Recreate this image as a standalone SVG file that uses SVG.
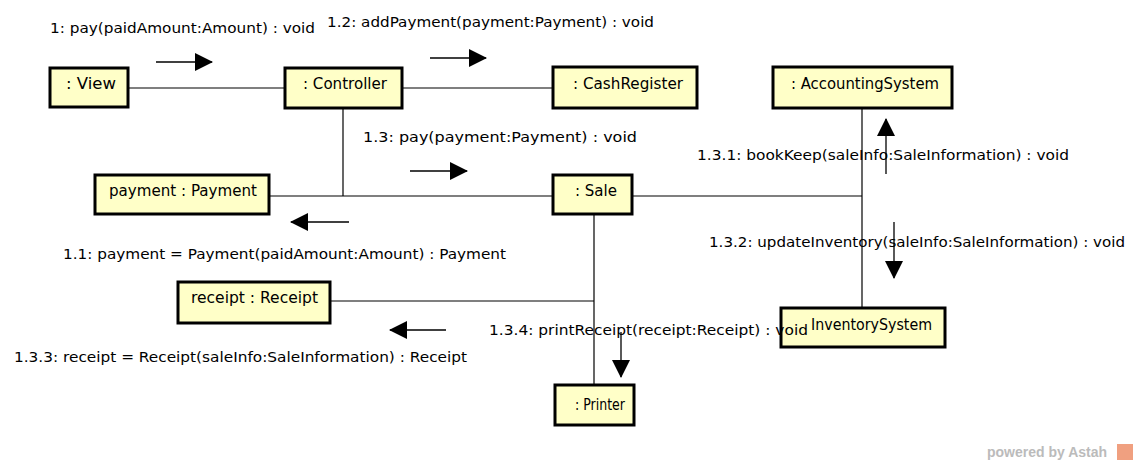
<svg xmlns="http://www.w3.org/2000/svg" width="1138" height="465" viewBox="0 0 1138 465">
<defs>
<style>
.node rect{fill:#ffffc8;stroke:#000;stroke-width:3}
text{font-family:"DejaVu Sans","Liberation Sans",sans-serif;font-size:14px;fill:#000}
.node text{font-size:15px}
.ln{stroke:#000;stroke-width:1.2;fill:none}
.arr{stroke:#000;stroke-width:1.3;fill:none;marker-end:url(#head)}
.wm{font-family:"Liberation Sans",Arial,sans-serif;font-weight:bold;font-size:14px;fill:#bbbbbb}
</style>
<marker id="head" viewBox="0 0 18 18" refX="17" refY="9" markerWidth="18" markerHeight="18" markerUnits="userSpaceOnUse" orient="auto">
<path d="M0,0 L18,9 L0,18 Z" fill="#000"/>
</marker>
</defs>
<rect width="1138" height="465" fill="#fff"/>
<g id="connectors">
<path class="ln" d="M128,88 H285"/>
<path class="ln" d="M402,88 H553"/>
<path class="ln" d="M343,108 V196"/>
<path class="ln" d="M269,196 H553"/>
<path class="ln" d="M632,196 H862"/>
<path class="ln" d="M862,108 V308"/>
<path class="ln" d="M594,214 V385"/>
<path class="ln" d="M330,301 H594"/>
<path class="arr" d="M156,62 H212"/>
<path class="arr" d="M430,58 H486"/>
<path class="arr" d="M410,171 H467"/>
<path class="arr" d="M349,222 H291"/>
<path class="arr" d="M886,174 V119"/>
<path class="arr" d="M894,222 V278"/>
<path class="arr" d="M446,330 H390"/>
<path class="arr" d="M621,332 V377"/>
</g>
<g id="n-view" class="node"><rect x="50" y="68" width="78" height="39"/><text x="66" y="89" textLength="50" lengthAdjust="spacingAndGlyphs">: View</text></g>
<g id="n-controller" class="node"><rect x="285" y="68" width="117" height="40"/><text x="303" y="89" textLength="84" lengthAdjust="spacingAndGlyphs">: Controller</text></g>
<g id="n-cashregister" class="node"><rect x="553" y="67" width="144" height="41"/><text x="573" y="89" textLength="110" lengthAdjust="spacingAndGlyphs">: CashRegister</text></g>
<g id="n-accounting" class="node"><rect x="773" y="67" width="179" height="41"/><text x="791" y="89" textLength="148" lengthAdjust="spacingAndGlyphs">: AccountingSystem</text></g>
<g id="n-payment" class="node"><rect x="95" y="175" width="174" height="39"/><text x="109" y="196" textLength="148" lengthAdjust="spacingAndGlyphs">payment : Payment</text></g>
<g id="n-sale" class="node"><rect x="553" y="175" width="79" height="39"/><text x="575" y="196" textLength="42" lengthAdjust="spacingAndGlyphs">: Sale</text></g>
<g id="n-receipt" class="node"><rect x="178" y="282" width="152" height="41"/><text x="191" y="303" textLength="127" lengthAdjust="spacingAndGlyphs">receipt : Receipt</text></g>
<g id="n-printer" class="node"><rect x="555" y="385" width="79" height="40"/><text x="575" y="410" textLength="50" lengthAdjust="spacingAndGlyphs">: Printer</text></g>
<g id="n-inventory" class="node"><rect x="781" y="308" width="164" height="39"/><text x="811" y="330" textLength="121" lengthAdjust="spacingAndGlyphs">InventorySystem</text></g>
<g id="labels">
<text x="50" y="33" textLength="265" lengthAdjust="spacingAndGlyphs">1: pay(paidAmount:Amount) : void</text>
<text x="327" y="27" textLength="327" lengthAdjust="spacingAndGlyphs">1.2: addPayment(payment:Payment) : void</text>
<text x="363" y="142" textLength="274" lengthAdjust="spacingAndGlyphs">1.3: pay(payment:Payment) : void</text>
<text x="63" y="259" textLength="443" lengthAdjust="spacingAndGlyphs">1.1: payment = Payment(paidAmount:Amount) : Payment</text>
<text x="697" y="160" textLength="372" lengthAdjust="spacingAndGlyphs">1.3.1: bookKeep(saleInfo:SaleInformation) : void</text>
<text x="709" y="247" textLength="416" lengthAdjust="spacingAndGlyphs">1.3.2: updateInventory(saleInfo:SaleInformation) : void</text>
<text x="14" y="362" textLength="453" lengthAdjust="spacingAndGlyphs">1.3.3: receipt = Receipt(saleInfo:SaleInformation) : Receipt</text>
<text x="489" y="335" textLength="319" lengthAdjust="spacingAndGlyphs">1.3.4: printReceipt(receipt:Receipt) : void</text>
</g>
<g id="watermark">
<text class="wm" x="987" y="457">powered by Astah</text>
<rect x="1117" y="444" width="16" height="16" fill="#f0a080"/>
</g>
</svg>
